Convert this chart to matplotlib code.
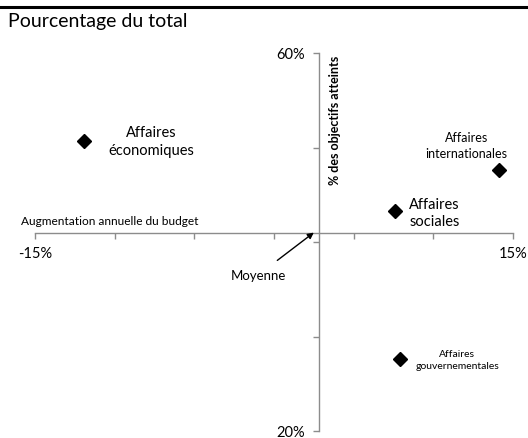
import numpy as np
import matplotlib.pyplot as plt
from matplotlib.lines import Line2D

plt.rcParams['font.family'] = ['Lato', 'DejaVu Sans']

# données
noms = ["Affaires\néconomiques", "Affaires\ninternationales", "Affaires\nsociales", "Affaires\ngouvernementales"]
budget = [-11.9, 14.1, 7.6, 7.9]        # augmentation annuelle du budget, %
objectifs = [50.7, 47.6, 43.3, 27.6]    # % des objectifs atteints
moy_x, moy_y = 2.8, 40.9                # croisement des axes (moyenne)

fig = plt.figure(figsize=(5.28, 4.39), dpi=100)
ax = fig.add_axes([35/528, 7/439, 478/528, 378/439])

ax.plot(budget, objectifs, "D", color="black", markersize=7, clip_on=False)

ax.set_xlim(-15, 15)
ax.set_ylim(20, 60)
for s in ["top", "right"]:
    ax.spines[s].set_visible(False)
ax.spines["left"].set_position(("data", moy_x))
ax.spines["bottom"].set_position(("data", moy_y))
for s in ["left", "bottom"]:
    ax.spines[s].set_color("#8c8c8c")
    ax.spines[s].set_linewidth(1)

ax.set_xticks([-15, -10, -5, 0, 5, 10, 15])
ax.set_xticklabels(["-15%", "", "", "", "", "", "15%"])
ax.set_yticks([20, 30, 40, 50, 60])
ax.set_yticklabels(["20%", "", "", "", "60%"])
ax.tick_params(direction="out", length=4, width=1, color="#8c8c8c", labelsize=10.5)
ax.tick_params(axis="x", pad=5)
ax.tick_params(axis="y", pad=6)

# étiquettes des points
ax.text(-7.7, 50.7, noms[0], ha="center", va="center", fontsize=10.5, linespacing=1.3)
ax.text(12.1, 50.3, noms[1], ha="center", va="center", fontsize=9, linespacing=1.4)
ax.text(8.5, 43.1, noms[2], ha="left", va="center", fontsize=10.5, linespacing=1.3)
ax.text(11.5, 27.6, noms[3], ha="center", va="center", fontsize=7.5, linespacing=1.4)

# titres des axes
ax.text(-15.9, moy_y + 1.4, "Augmentation annuelle du budget", ha="left", va="center", fontsize=8.6)
ax.text(moy_x + 1.0, 59.8, "% des objectifs atteints", ha="center", va="top",
        rotation=90, fontsize=9, fontweight="bold")

# flèche « Moyenne »
ax.annotate("Moyenne", xy=(moy_x - 0.3, moy_y + 0.1), xytext=(-1.0, 36.5),
            ha="center", va="center", fontsize=9.5,
            arrowprops=dict(arrowstyle="-|>", color="black", lw=1, shrinkA=7, shrinkB=0,
                            mutation_scale=9))

fig.text(8/528, 1 - 21/439, "Pourcentage du total", ha="left", va="center", fontsize=14)
fig.add_artist(Line2D([0, 1], [1 - 8/439, 1 - 8/439], color="black", lw=2.2,
                      transform=fig.transFigure))

fig.savefig("out.png", dpi=100)
